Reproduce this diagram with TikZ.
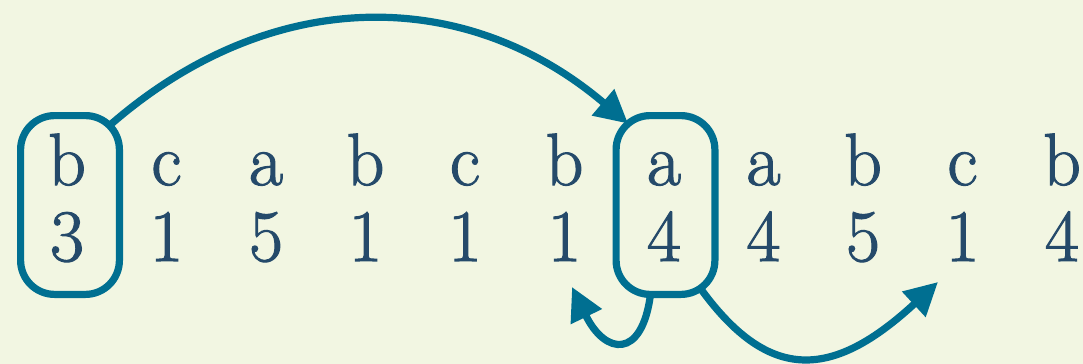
\documentclass[tikz,border=0pt]{standalone}
\usepackage{fontspec}
\usetikzlibrary{arrows.meta,calc}
\newfontfamily\cellfont{Latin Modern Roman}[RawFeature={embolden=1.5}]
\definecolor{paper}{HTML}{F2F6E2}
\definecolor{ink}{HTML}{254A6A}
\definecolor{link}{HTML}{006F91}
\begin{document}
\begin{tikzpicture}[x=0.5pt,y=-0.5pt,
  cell/.style={anchor=base,text=ink,inner sep=0pt,font=\cellfont\fontsize{37}{40}\selectfont},
  pick/.style={draw=link,line width=3.6pt,rounded corners=17pt,
    minimum width=49.4pt,minimum height=89.4pt,outer sep=0pt,inner sep=0pt},
  jump/.style={draw=link,line width=3.6pt,-{Triangle[length=16.5pt,width=16.5pt]}}]
  \fill[paper] (0,0) rectangle (1083,364);
  \useasboundingbox (0,0) rectangle (1083,364);
  % letters and counts, one column each
  \foreach \l/\n [count=\i] in {b/3,c/1,a/5,b/1,c/1,b/1,a/4,a/4,b/5,c/1,b/4}{
    \node[cell] (l\i) at ({67+99.5*(\i-1)},185) {\l};
    \node[cell] (n\i) at ({67+99.5*(\i-1)},261) {\n};
  }
  % highlighted columns
  \node[pick] (box1) at (70,205) {};
  \node[pick] (box2) at (665.5,205) {};
  % arrow ends
  \coordinate (s1) at ($(box1.north east)+(-10,10)$);
  \coordinate (e1) at ($(box2.north west)+(12,8)$);
  \coordinate (s2) at ($(box2.south)+(-15,0)$);
  \coordinate (e2) at (572,287);
  \coordinate (s3) at ($(box2.south east)+(-13,-4)$);
  \coordinate (e3) at (938,282);
  \draw[jump] (s1) .. controls (270,-15) and (465,-15) .. (e1);
  \draw[jump] (s2) .. controls (642,360) and (605,355) .. (e2);
  \draw[jump] (s3) .. controls (770,383) and (833,379) .. (e3);
\end{tikzpicture}
\end{document}
